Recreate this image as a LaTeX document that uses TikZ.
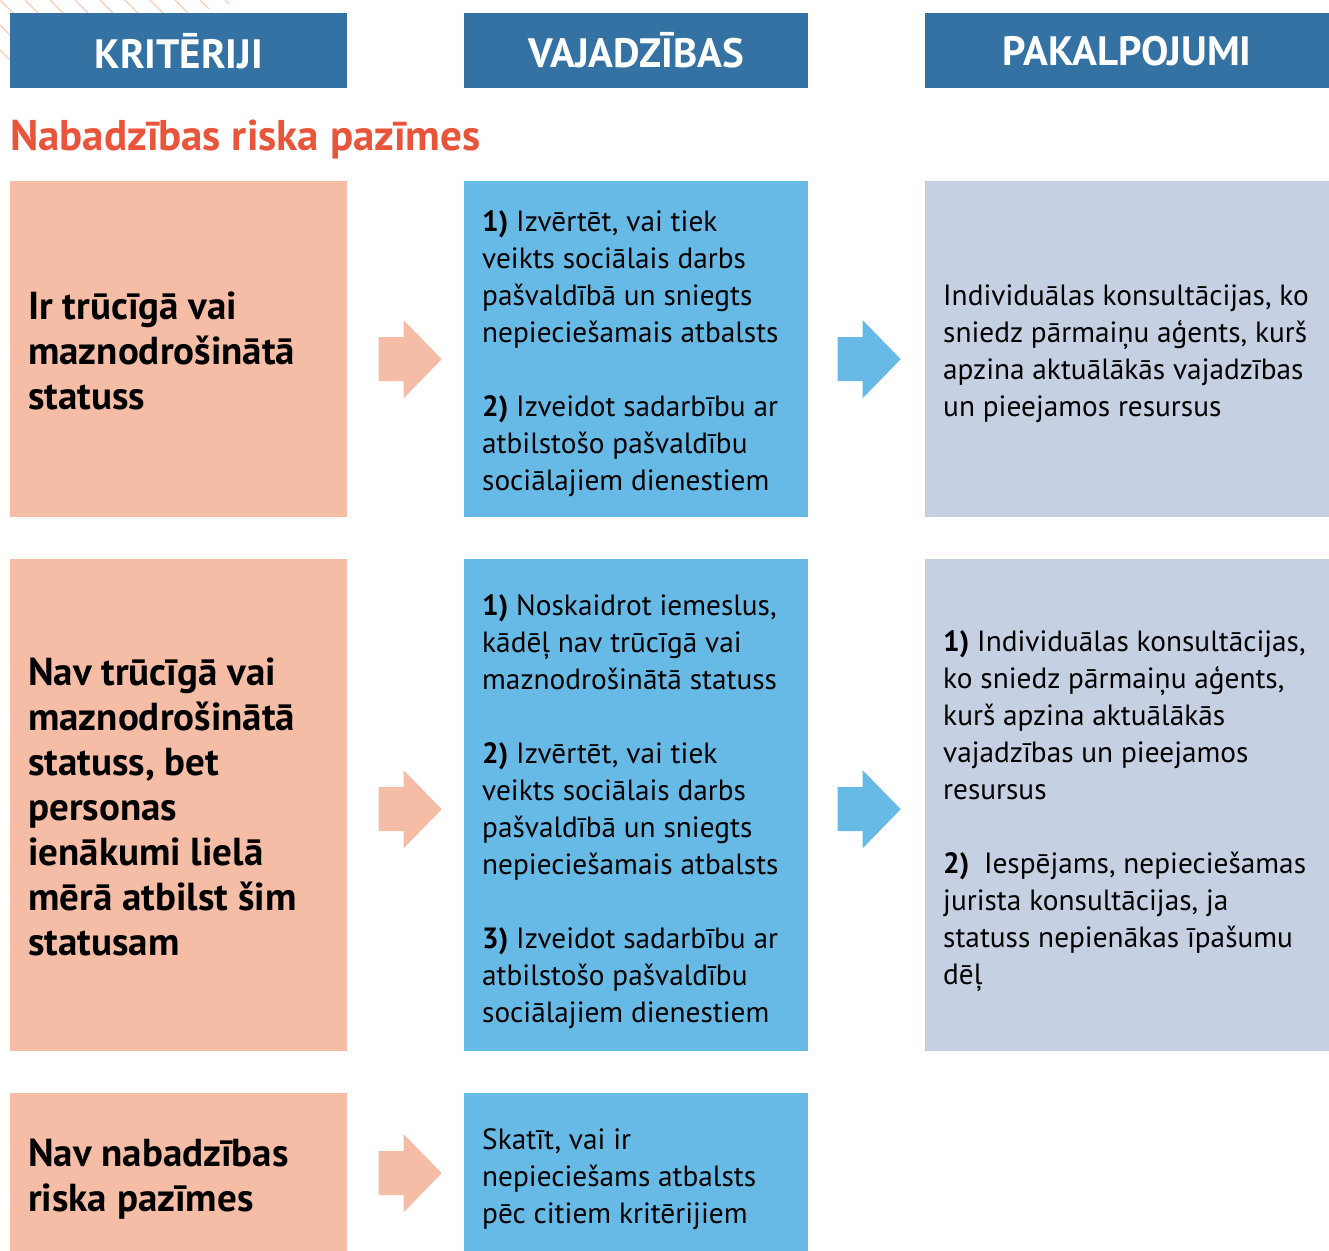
\documentclass[tikz,border=0pt]{standalone}
\usepackage{fontspec}
\setmainfont{PT Sans}
\usetikzlibrary{calc}

\definecolor{hdrblue}{HTML}{3472A3}
\definecolor{salmon}{HTML}{F5BDA6}
\definecolor{skyblue}{HTML}{68BAE6}
\definecolor{greyblue}{HTML}{C5D0E2}
\definecolor{titlered}{HTML}{E9553A}
\definecolor{hatch}{HTML}{F8CDB6}

% block arrow centred on a coordinate
\newcommand{\blockarrow}[2]{%
  \fill[#2, shift={(#1)}] (-31,-22) -- (-6,-22) -- (-6,-39) -- (32,0)
    -- (-6,39) -- (-6,22) -- (-31,22) -- cycle;}

\begin{document}
\begin{tikzpicture}[x=1pt, y=-1pt, line join=round,
  hdr/.style={fill=hdrblue, text=white, anchor=north west, minimum height=75,
    inner sep=0, font=\fontsize{41}{44}\selectfont\bfseries},
  cell/.style={anchor=north west, inner sep=0},
  ktext/.style={anchor=west, align=left, inner sep=0,
    font=\fontsize{39}{45}\selectfont\bfseries},
  vtext/.style={anchor=west, align=left, inner sep=0,
    font=\fontsize{29.3}{37}\selectfont}]
  \useasboundingbox (0,0) rectangle (1329,1250);

  % hatching in the corner
  \begin{scope}
    \clip (0,0) -- (245,0) -- (0,62) -- cycle;
    \foreach \x in {-75,-50,...,250}
      \draw[hatch, line width=1.4] (\x,0) -- ++(70,70);
  \end{scope}

  % column heads
  \node[hdr, minimum width=337] (hk) at (10,13) {KRITĒRIJI};
  \node[hdr, minimum width=344] (hv) at (464,13) {VAJADZĪBAS};
  \node[hdr, minimum width=404] (hp) at (925,13) {PAKALPOJUMI};

  \node[anchor=base west, inner sep=0, text=titlered,
    font=\fontsize{43}{46}\selectfont\bfseries] (title) at (10,150) {Nabadzības riska pazīmes};

  % row 1
  \node[cell, fill=salmon, minimum width=337, minimum height=336] (k1) at (10,181) {};
  \node[cell, fill=skyblue, minimum width=344, minimum height=336] (v1) at (464,181) {};
  \node[cell, fill=greyblue, minimum width=404, minimum height=336] (p1) at (925,181) {};
  \node[ktext] (k1t) at ($(k1.west)+(18,2)$)
    {Ir trūcīgā vai\\maznodrošinātā\\statuss};
  \node[vtext] (v1t) at ($(v1.west)+(18,4)$)
    {\textbf{1)} Izvērtēt, vai tiek\\veikts sociālais darbs\\pašvaldībā un sniegts\\nepieciešamais atbalsts\\[37pt]
     \textbf{2)} Izveidot sadarbību ar\\atbilstošo pašvaldību\\sociālajiem dienestiem};
  \node[vtext] (p1t) at ($(p1.west)+(18,5)$)
    {Individuālas konsultācijas, ko\\sniedz pārmaiņu aģents, kurš\\apzina aktuālākās vajadzības\\un pieejamos resursus};

  % row 2
  \node[cell, fill=salmon, minimum width=337, minimum height=492] (k2) at (10,559) {};
  \node[cell, fill=skyblue, minimum width=344, minimum height=492] (v2) at (464,559) {};
  \node[cell, fill=greyblue, minimum width=404, minimum height=492] (p2) at (925,559) {};
  \node[ktext] (k2t) at ($(k2.west)+(18,2)$)
    {Nav trūcīgā vai\\maznodrošinātā\\statuss, bet\\personas\\ienākumi lielā\\mērā atbilst šim\\statusam};
  \node[vtext] (v2t) at ($(v2.west)+(18,6)$)
    {\textbf{1)} Noskaidrot iemeslus,\\kādēļ nav trūcīgā vai\\maznodrošinātā statuss\\[37pt]
     \textbf{2)} Izvērtēt, vai tiek\\veikts sociālais darbs\\pašvaldībā un sniegts\\nepieciešamais atbalsts\\[37pt]
     \textbf{3)} Izveidot sadarbību ar\\atbilstošo pašvaldību\\sociālajiem dienestiem};
  \node[vtext] (p2t) at ($(p2.west)+(18,6)$)
    {\textbf{1)} Individuālas konsultācijas,\\ko sniedz pārmaiņu aģents,\\kurš apzina aktuālākās\\vajadzības un pieejamos\\resursus\\[37pt]
     \textbf{2)}\enspace Iespējams, nepieciešamas\\jurista konsultācijas, ja\\statuss nepienākas īpašumu\\dēļ};

  % row 3
  \node[cell, fill=salmon, minimum width=337, minimum height=160] (k3) at (10,1093) {};
  \node[cell, fill=skyblue, minimum width=344, minimum height=160] (v3) at (464,1093) {};
  \node[ktext] (k3t) at ($(k3.west)+(18,6)$)
    {Nav nabadzības\\riska pazīmes};
  \node[vtext] (v3t) at ($(v3.west)+(18,6)$)
    {Skatīt, vai ir\\nepieciešams atbalsts\\pēc citiem kritērijiem};

  % arrows
  \coordinate (a1) at ($(k1.east)!0.5!(v1.west)+(4,10)$);
  \coordinate (b1) at ($(v1.east)!0.5!(p1.west)+(2,10)$);
  \coordinate (a2) at ($(k2.east)!0.5!(v2.west)+(4,4)$);
  \coordinate (b2) at ($(v2.east)!0.5!(p2.west)+(2,4)$);
  \coordinate (a3) at ($(k3.east)!0.5!(v3.west)+(4,0)$);
  \blockarrow{a1}{salmon}
  \blockarrow{b1}{skyblue}
  \blockarrow{a2}{salmon}
  \blockarrow{b2}{skyblue}
  \blockarrow{a3}{salmon}
\end{tikzpicture}
\end{document}
